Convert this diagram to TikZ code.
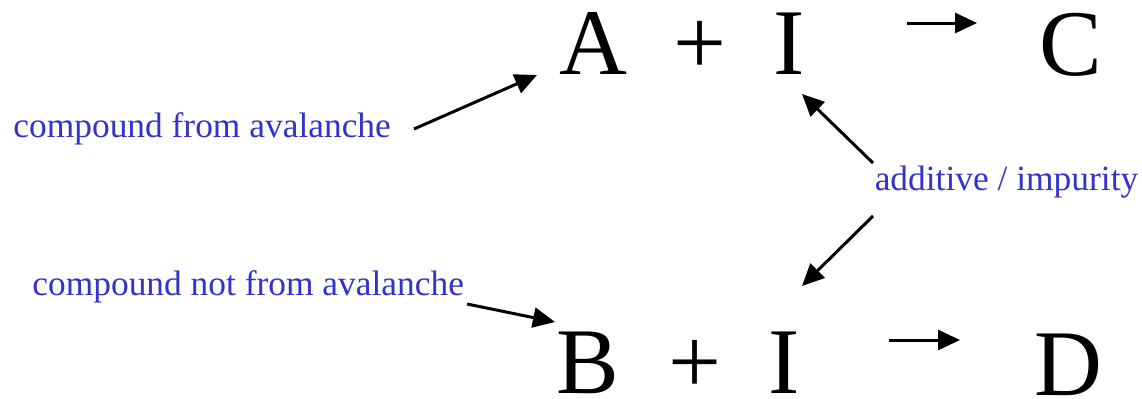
\documentclass[tikz,border=0pt]{standalone}
\usepackage{fontspec}
\setmainfont{Liberation Serif}
\usetikzlibrary{arrows.meta,calc}
\definecolor{NoteClr}{RGB}{51,51,204}

\begin{document}
\begin{tikzpicture}[x=0.5pt,y=-0.5pt,
  chem/.style={anchor=base,inner sep=0pt,text depth=0pt,font=\fontsize{47}{50}\selectfont},
  note/.style={anchor=base,inner sep=0pt,text=NoteClr,font=\fontsize{17.7}{20}\selectfont},
  arr/.style={line width=1.5pt,-{Triangle[length=11pt,width=10pt]}}]
\useasboundingbox (0,0) rectangle (1142,398);

% top reaction
\node[chem] (A) at (593,74) {A};
\node[chem] (plusA) at (700.5,74) {+};
\node[chem] (IA) at (789.5,74) {I};
\node[chem] (C) at (1071,75) {C};

% bottom reaction
\node[chem] (B) at (588,393) {B};
\node[chem] (plusB) at (695.5,393) {+};
\node[chem] (IB) at (784.5,393) {I};
\node[chem] (D) at (1068,395) {D};

% notes
\node[note,anchor=base west] (fromAv) at (13,137) {compound from avalanche};
\node[note,anchor=base west] (notAv) at (32,295) {compound not from avalanche};
\node[note] (addImp) at (1006.5,190) {additive / impurity};

% arrow ends
\coordinate (fromAvS) at (414,129); \coordinate (fromAvE) at (537,75);
\coordinate (notAvS) at (467,304);  \coordinate (notAvE) at (555,322);
\coordinate (addUpS) at (873,163);  \coordinate (addUpE) at (802,94);
\coordinate (addDnS) at (873,216);  \coordinate (addDnE) at (802,286);
\coordinate (reacAS) at (907,23);   \coordinate (reacAE) at (977,23);
\coordinate (reacBS) at (889,340);  \coordinate (reacBE) at (960,340);

\draw[arr] (fromAvS) -- (fromAvE);
\draw[arr] (notAvS) -- (notAvE);
\draw[arr] (addUpS) -- (addUpE);
\draw[arr] (addDnS) -- (addDnE);
\draw[arr] (reacAS) -- (reacAE);
\draw[arr] (reacBS) -- (reacBE);

\end{tikzpicture}
\end{document}
